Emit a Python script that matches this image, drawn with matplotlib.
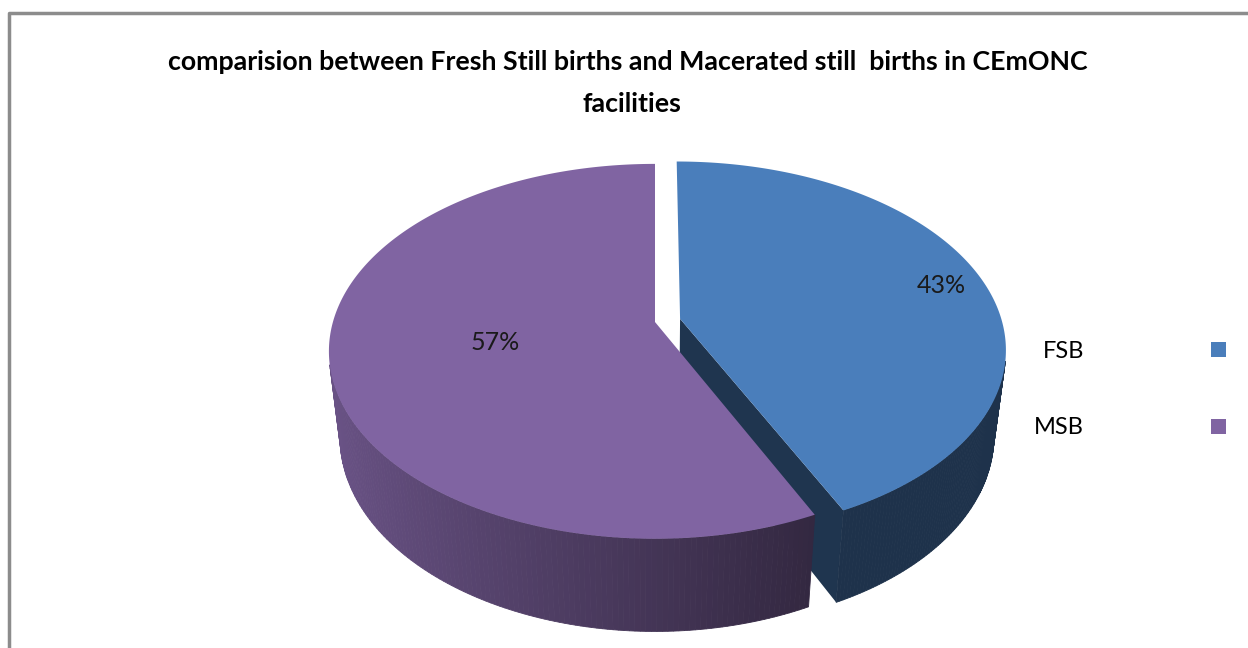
import numpy as np
import matplotlib.pyplot as plt
from matplotlib.patches import Polygon, Patch
from matplotlib.colors import to_rgb

# data
labels = ['FSB', 'MSB']
values = [43, 57]
colors = ['#4a7ebb', '#8064a2']
explode = [0.08, 0.0]

title = 'comparision between Fresh Still births and Macerated still  births in CEmONC\nfacilities'

# fake 3-D camera (pixels)
phi = np.radians(34)
dist = 5.3
focal = 1733
xscale = 0.985
cx, cy = 655, 322
thick = 0.328
label_r = [0.86, 0.5]

plt.rcParams['font.family'] = ['Lato', 'DejaVu Sans']


def project(x, z, y=0.0):
    up = y * np.cos(phi) - z * np.sin(phi)
    d = dist - (y * np.sin(phi) + z * np.cos(phi))
    return cx + xscale * focal * x / d, cy - focal * up / d


def shade(c, f):
    r, g, b = to_rgb(c)
    return (r * f, g * f, b * f)


fig = plt.figure(figsize=(12.48, 6.48), dpi=100)
ax = fig.add_axes([0, 0, 1, 1])
ax.set_xlim(0, 1248)
ax.set_ylim(648, 0)
ax.axis('off')

# outer frame
ax.plot([9, 9, 1248], [648, 13, 13], color='#8c8c8c', lw=2.5, solid_capstyle='butt')

total = sum(values)
starts = np.cumsum([0] + values[:-1]) / total * 360
ends = np.cumsum(values) / total * 360
mids = (starts + ends) / 2

# draw back slices first
order = sorted(range(len(values)), key=lambda i: -np.cos(np.radians(mids[i])))

for i in order:
    s, e, m = np.radians(starts[i]), np.radians(ends[i]), np.radians(mids[i])
    ox = explode[i] * np.sin(m)
    oz = -explode[i] * np.cos(m)
    col = colors[i]

    # radial cut faces
    for a, sign in [(s, -1), (e, 1)]:
        nx, nz = sign * np.cos(a), sign * np.sin(a)
        vis = nx * (-ox) + nz * (dist * np.cos(phi) - oz)
        if vis > 0.2:
            px, pz = ox + np.sin(a), oz - np.cos(a)
            pts = [project(ox, oz), project(px, pz), project(px, pz, -thick), project(ox, oz, -thick)]
            ax.add_patch(Polygon(pts, closed=True, fc=shade(col, 0.42), ec='none'))

    # outer wall, light from the left
    th = np.linspace(s, e, 240)
    for a0, a1 in zip(th[:-1], th[1:]):
        am = (a0 + a1) / 2
        if np.cos(am) > -1 / (dist * np.cos(phi)):
            continue
        pts = [project(ox + np.sin(a0), oz - np.cos(a0)),
               project(ox + np.sin(a1), oz - np.cos(a1)),
               project(ox + np.sin(a1), oz - np.cos(a1), -thick),
               project(ox + np.sin(a0), oz - np.cos(a0), -thick)]
        g = np.clip((0.426 - np.sin(am)) / 1.38, 0, 1)
        f = 0.4 + 0.42 * g
        ax.add_patch(Polygon(pts, closed=True, fc=shade(col, f), ec=shade(col, f), lw=0.6))

    # top face
    top = [project(ox, oz)] + [project(ox + np.sin(a), oz - np.cos(a)) for a in th]
    ax.add_patch(Polygon(top, closed=True, fc=col, ec='none'))

    # percent label
    lx, ly = project(ox + label_r[i] * np.sin(m), oz - label_r[i] * np.cos(m))
    ax.text(lx, ly, '{:.0f}%'.format(values[i] / total * 100), ha='center', va='center',
            fontsize=18, color='#1a1a1a')

ax.text(628, 62, title.split('\n')[0], ha='center', va='center', fontsize=19.3, fontweight='bold')
ax.text(632, 104, title.split('\n')[1], ha='center', va='center', fontsize=19.3, fontweight='bold')

handles = [Patch(facecolor=c, edgecolor='none') for c in colors]
ax.legend(handles, labels, loc='upper left', bbox_to_anchor=(1034, 341),
          bbox_transform=ax.transData, frameon=False, markerfirst=False,
          fontsize=17, handlelength=0.6, handleheight=0.6,
          handletextpad=5.4, labelspacing=2.35, borderpad=0, borderaxespad=0)

fig.savefig('out.png', dpi=100)
